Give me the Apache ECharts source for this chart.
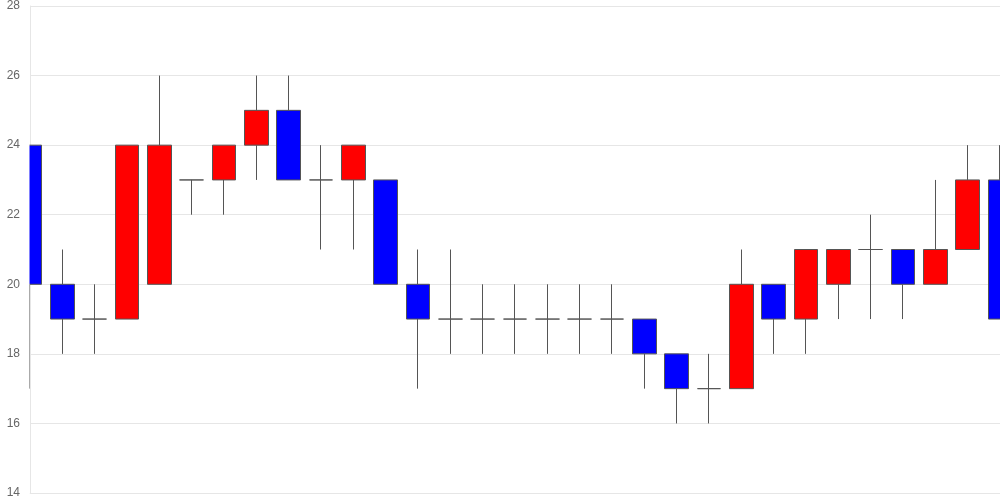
<!DOCTYPE html>
<html>
<head>
<meta charset="utf-8">
<script src="https://cdn.jsdelivr.net/npm/echarts@6/dist/echarts.min.js"></script>
<style>html,body{margin:0;padding:0;background:#fff}#c{width:1000px;height:500px}</style>
</head>
<body>
<div id="c"></div>
<script>
var categories = ['1','2','3','4','5','6','7','8','9','10','11','12','13','14','15','16','17','18','19','20','21','22','23','24','25','26','27','28','29','30','31'];
// [open, close, low, high]
var opens  = [24,20,19,19,20,23,23,24,25,23,23,23,20,19,19,19,19,19,19,19,18,17,17,20,19,20,21,21,20,21,23];
var closes = [20,19,19,24,24,23,24,25,23,23,24,20,19,19,19,19,19,19,19,18,17,17,20,19,21,21,21,20,21,23,19];
var lows   = [17,18,18,19,20,22,22,23,23,21,21,20,17,18,18,18,18,18,18,17,16,16,17,18,18,19,19,19,20,21,19];
var highs  = [24,21,20,24,26,23,24,26,26,24,24,23,21,21,20,20,20,20,20,19,18,18,21,20,21,21,22,21,23,24,24];
var yTicks = {min: 14, max: 28, interval: 2};

var data = categories.map(function(c, i){ return [opens[i], closes[i], lows[i], highs[i]]; });

var chart = echarts.init(document.getElementById('c'), null, {renderer: 'canvas'});
chart.setOption({
  animation: false,
  grid: {left: 30, right: 0, top: 5, bottom: 7, containLabel: false},
  xAxis: {
    type: 'category', data: categories, boundaryGap: false,
    axisLine: {show: true, lineStyle: {color: '#e6e6e6'}},
    axisTick: {show: false}, axisLabel: {show: false}, splitLine: {show: false}
  },
  yAxis: [{
    type: 'value', min: yTicks.min, max: yTicks.max, interval: yTicks.interval,
    axisLine: {show: true, lineStyle: {color: '#e6e6e6'}},
    axisTick: {show: false}, axisLabel: {show: false},
    splitLine: {show: true, lineStyle: {color: '#e6e6e6'}}
  }, {
    type: 'value', min: yTicks.min, max: yTicks.max, interval: yTicks.interval, position: 'left', z: 300,
    axisLine: {show: false}, axisTick: {show: false}, splitLine: {show: false},
    axisLabel: {color: '#666', fontSize: 12, fontFamily: 'Arial, Liberation Sans, sans-serif', margin: 10}
  }],
  graphic: [{
    type: 'rect', z: 100, silent: true,
    shape: {x: 15, y: 0, width: 14.5, height: 500},
    style: {fill: '#fff'}
  }],
  series: [{
    type: 'candlestick', data: data, barWidth: 24, clip: true, yAxisIndex: 0,
    itemStyle: {color: '#ff0000', color0: '#0000ff', borderColor: '#555', borderColor0: '#555', borderColorDoji: '#555', borderWidth: 1}
  }]
});
</script>
</body>
</html>
